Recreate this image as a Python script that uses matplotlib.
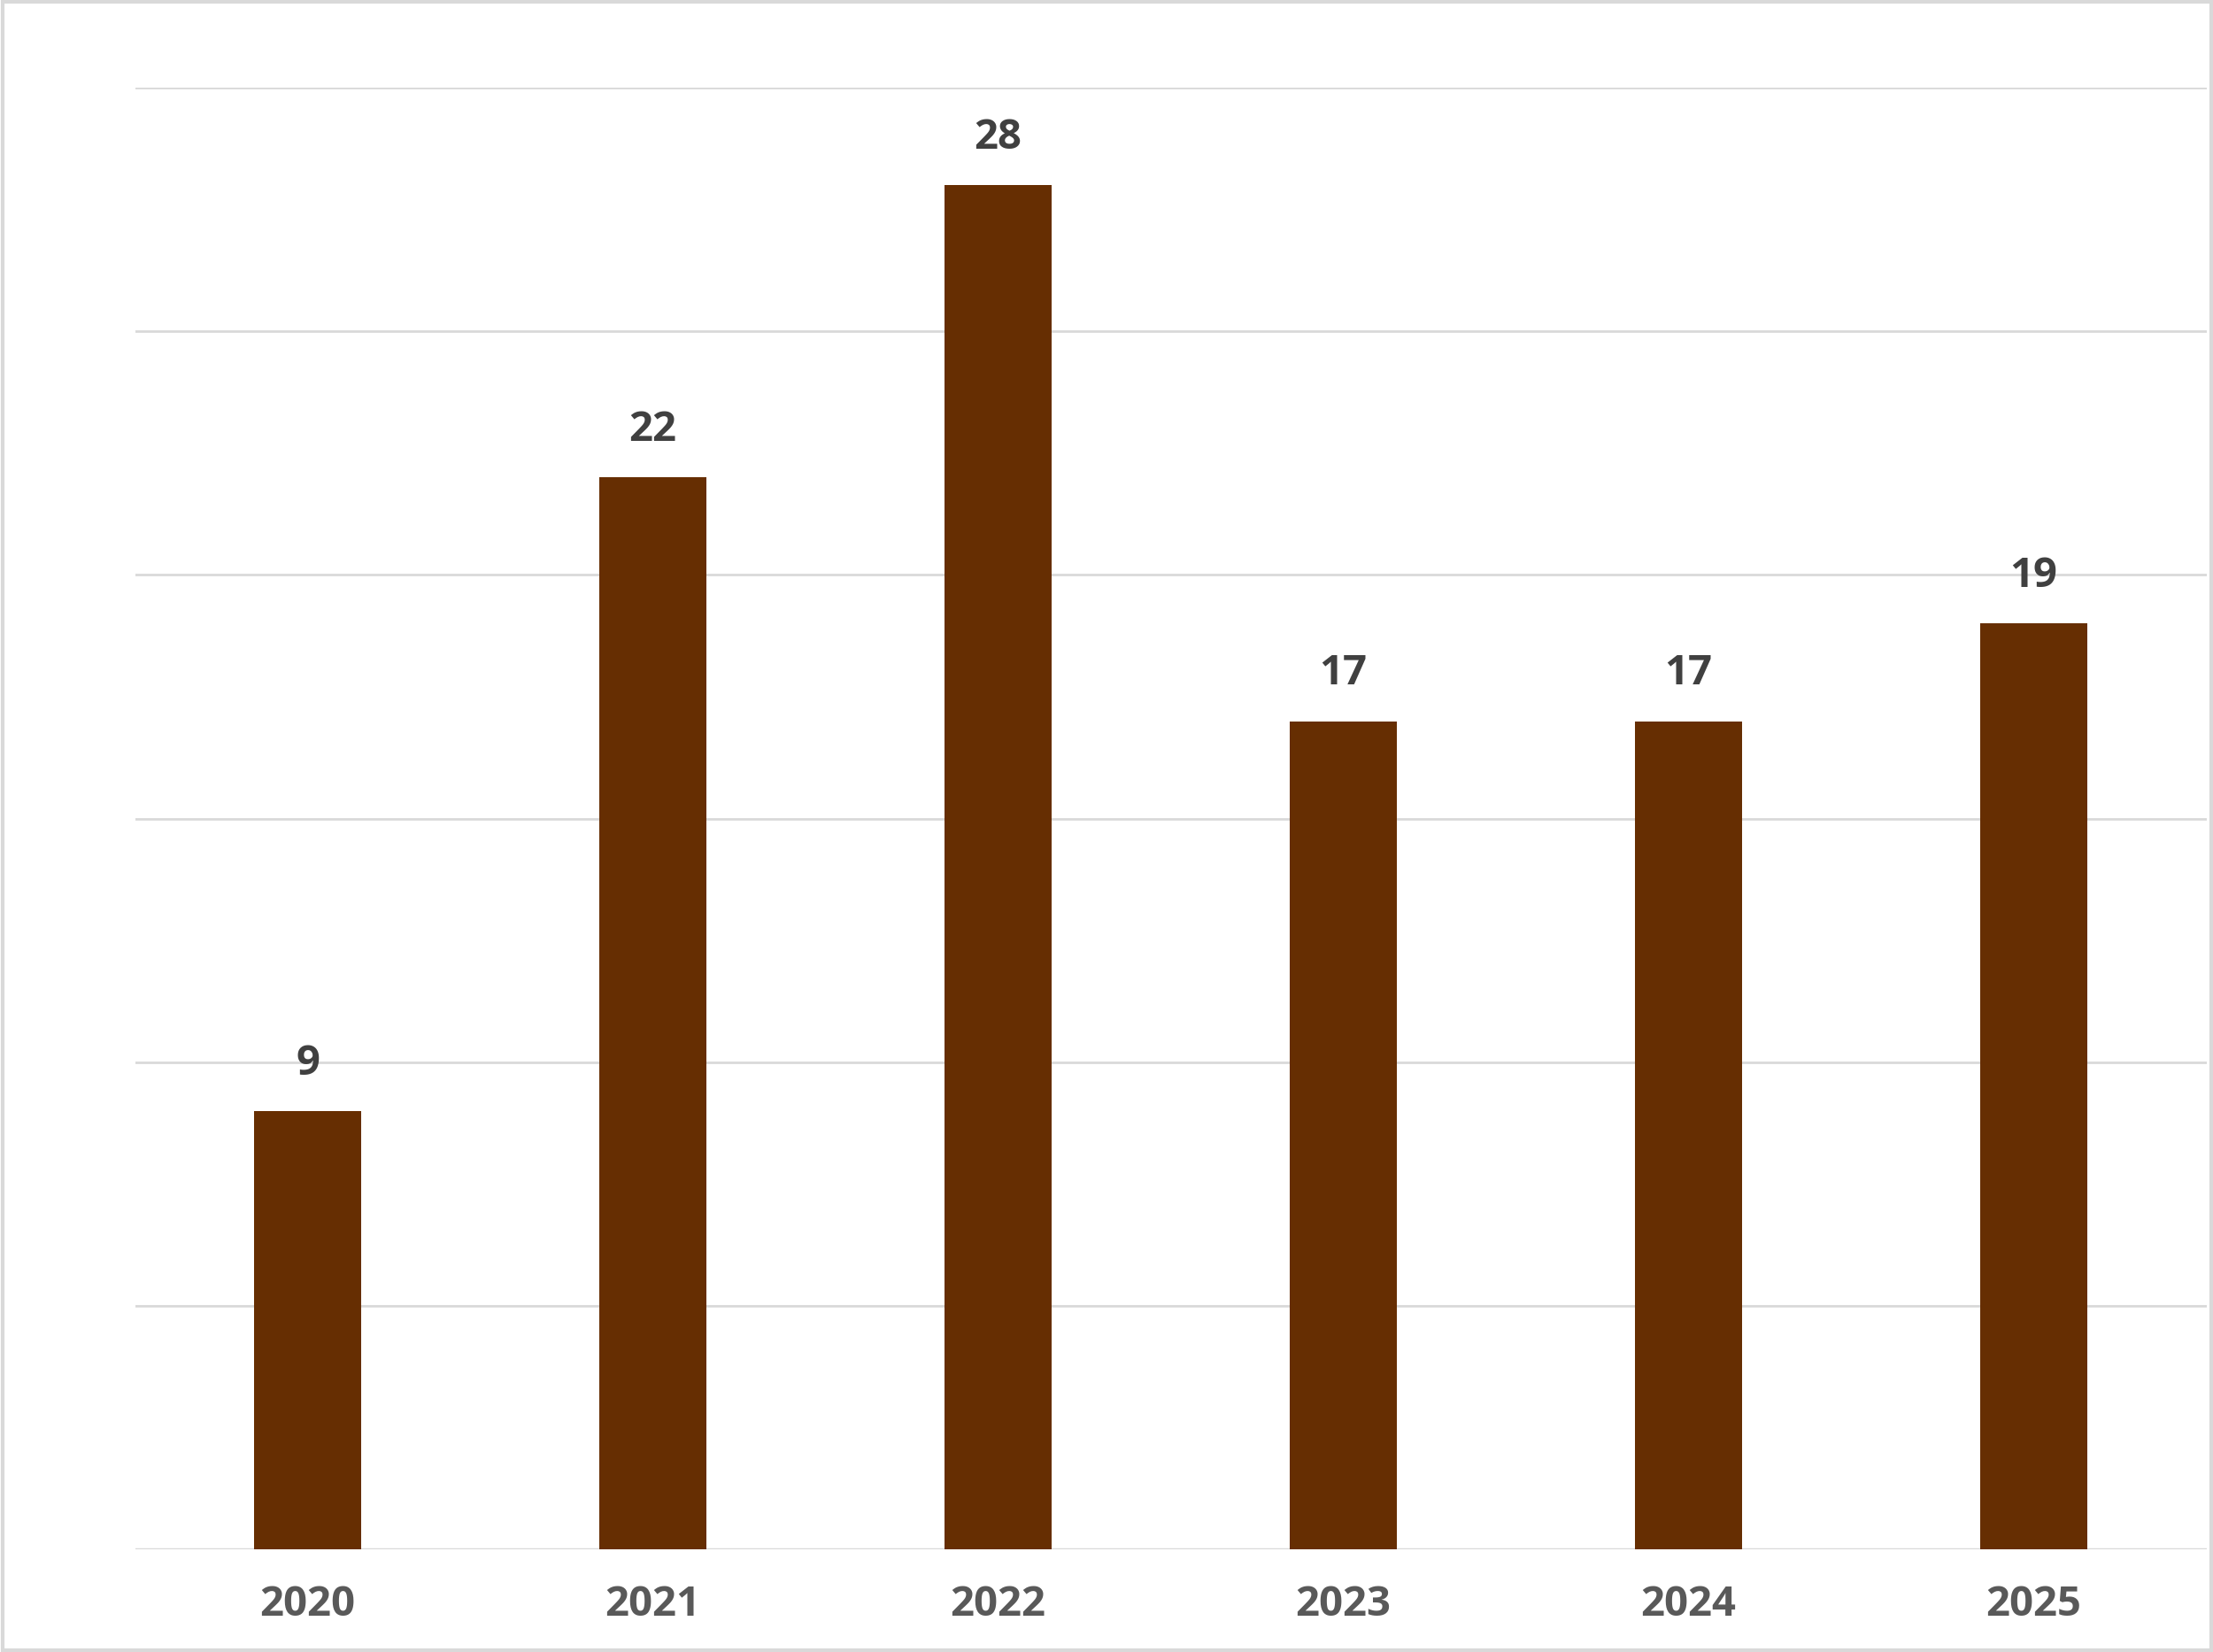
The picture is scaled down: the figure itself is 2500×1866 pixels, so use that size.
import matplotlib
matplotlib.use("Agg")
import matplotlib.pyplot as plt
from matplotlib.patches import Rectangle

years = ["2020", "2021", "2022", "2023", "2024", "2025"]
counts = [9, 22, 28, 17, 17, 19]

plt.rcParams["font.family"] = ["Open Sans", "DejaVu Sans"]

fig = plt.figure(figsize=(25, 18.66), dpi=100)
ax = fig.add_axes([0.061, 0.062, 0.936, 0.885])
x = range(len(years))
bars = ax.bar(x, counts, width=0.31, color="#662e02", zorder=3)
for b, v in zip(bars, counts):
    ax.text(b.get_x() + b.get_width() / 2, v + 0.55, str(v), ha="center", va="bottom",
            fontsize=34, fontweight="bold", color="#404040")

ax.set_xlim(-0.5, 5.5)
ax.set_ylim(0, 30)
ax.set_yticks(range(0, 31, 5))
ax.set_yticklabels([])
ax.yaxis.grid(True, color="#d9d9d9", lw=2)
ax.tick_params(axis="both", length=0)
ax.set_xticks(list(x))
ax.set_xticklabels(years, fontsize=34, fontweight="bold", color="#595959")
ax.tick_params(axis="x", pad=28)
for s in ax.spines.values():
    s.set_visible(False)
ax.axhline(0, color="#d9d9d9", lw=2.5, zorder=2)

fig.patches.append(Rectangle((0.001, 0.001), 0.998, 0.998, transform=fig.transFigure,
                             fill=False, edgecolor="#d9d9d9", lw=3))
fig.savefig("out.png", dpi=100)
